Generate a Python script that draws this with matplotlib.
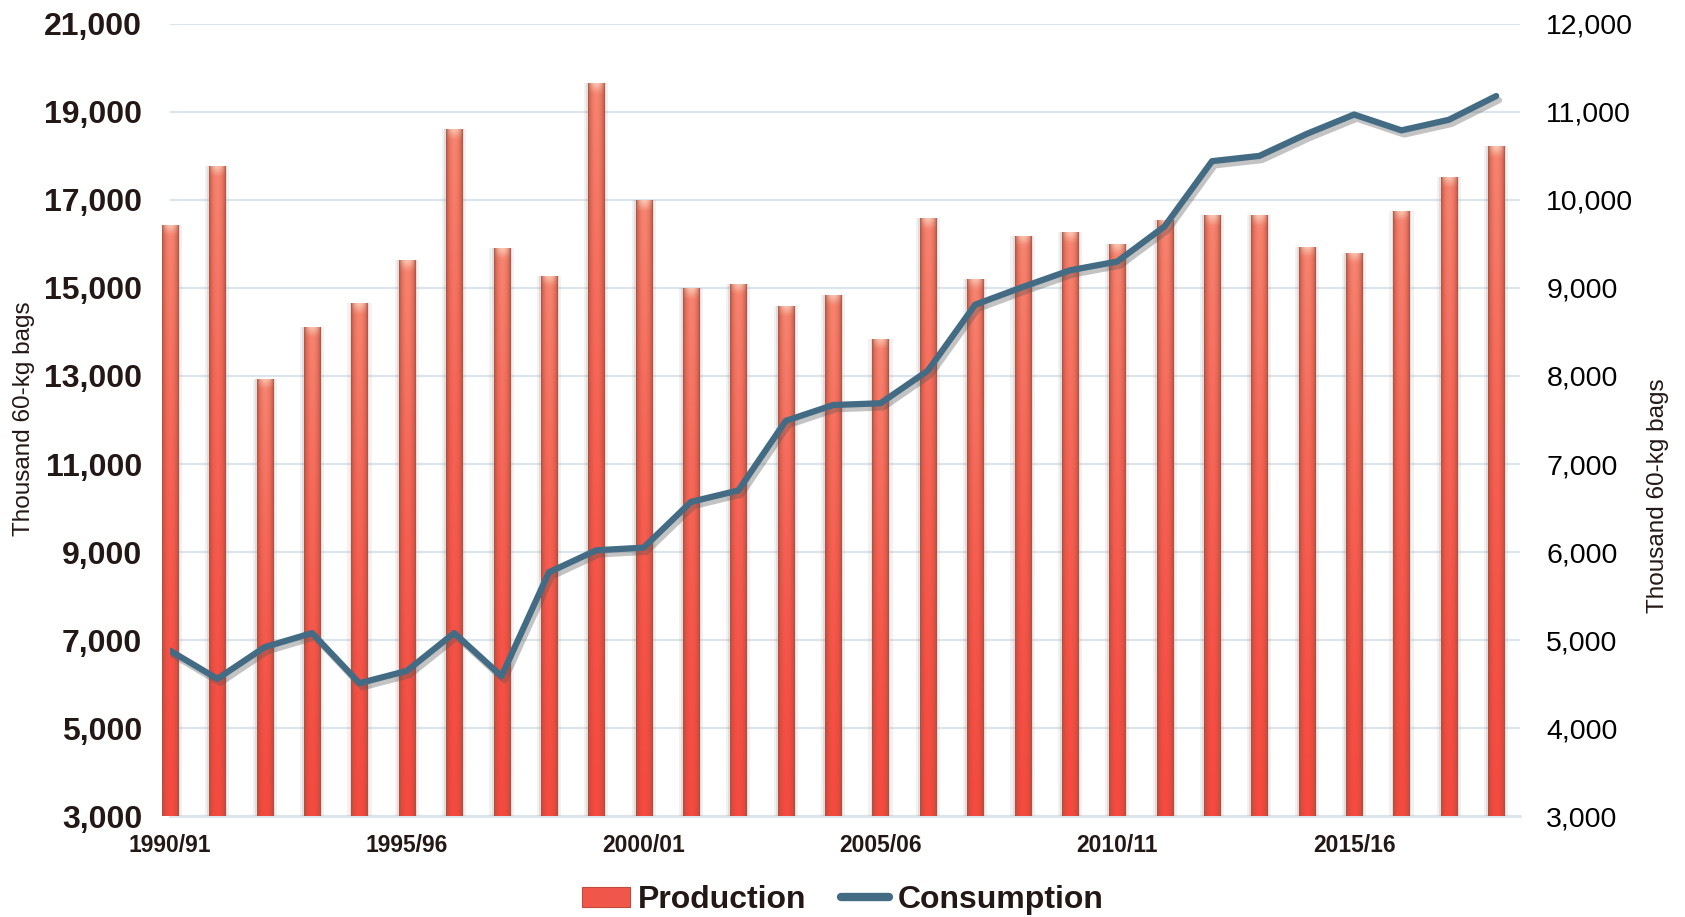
import numpy as np
import matplotlib.pyplot as plt
import matplotlib.patheffects as pe
from matplotlib.patches import Patch
from matplotlib.lines import Line2D
from matplotlib.ticker import FuncFormatter

plt.rcParams['font.family'] = ['Liberation Sans', 'DejaVu Sans']

years = ['1990/91', '1991/92', '1992/93', '1993/94', '1994/95', '1995/96', '1996/97',
         '1997/98', '1998/99', '1999/00', '2000/01', '2001/02', '2002/03', '2003/04',
         '2004/05', '2005/06', '2006/07', '2007/08', '2008/09', '2009/10', '2010/11',
         '2011/12', '2012/13', '2013/14', '2014/15', '2015/16', '2016/17', '2017/18',
         '2018/19']
production = [16430, 17780, 12940, 14110, 14650, 15630, 18610, 15900, 15280, 19660,
              16990, 14990, 15090, 14600, 14840, 13840, 16580, 15210, 16190, 16260,
              15990, 16550, 16650, 16650, 15940, 15800, 16750, 17530, 18220]
consumption = [4880, 4560, 4920, 5080, 4510, 4650, 5080, 4590, 5770, 6020,
               6050, 6570, 6700, 7490, 7670, 7690, 8060, 8810, 9010, 9200,
               9300, 9700, 10440, 10500, 10750, 10970, 10790, 10910, 11180]
shown_years = ['1990/91', '1995/96', '2000/01', '2005/06', '2010/11', '2015/16']

dark = '#231815'
line_col = '#436C84'

fig = plt.figure(figsize=(16.85, 9.17), dpi=100)
ax = fig.add_axes([0.1009, 0.110, 0.8011, 0.864])
ax2 = ax.twinx()

x = np.arange(len(years))
w = 0.34
ymin, ymax = 3000, 21000

# soft shadows behind bars
ax.bar(x, production, width=w + 0.17, color='#9a9a9a', alpha=0.12, zorder=1)
ax.bar(x, production, width=w + 0.08, color='#8a8a8a', alpha=0.18, zorder=1)
bars = ax.bar(x, production, width=w, color='none', zorder=2)

# cylinder-like shading for the bars
edge = np.array([0.68, 0.30, 0.23])
c_bot = np.array([0.97, 0.29, 0.25])
c_top = np.array([0.97, 0.52, 0.44])
cap = np.array([0.99, 0.82, 0.74])
u = np.linspace(-1, 1, 40)
prof = np.cos(u * np.pi / 2) ** 0.6
for b, val in zip(bars, production):
    x0 = b.get_x()
    x1 = x0 + b.get_width()
    ys = np.linspace(val, ymin, 200)
    t = (ys - ymin) / (val - ymin)
    centre = c_bot[None, :] + (c_top - c_bot)[None, :] * (t[:, None] ** 1.5)
    capw = np.clip(1 - (val - ys) / 220.0, 0, 1)[:, None] * 0.8
    centre = centre * (1 - capw) + cap[None, :] * capw
    img = edge[None, None, :] + (centre[:, None, :] - edge[None, None, :]) * prof[None, :, None]
    im = ax.imshow(img, extent=[x0, x1, ymin, val], aspect='auto', zorder=2,
                   interpolation='bilinear')
    im.set_clip_path(b)

ax2.plot(x, consumption, color=line_col, lw=4.5, solid_joinstyle='round',
         solid_capstyle='round', zorder=3,
         path_effects=[pe.SimpleLineShadow(offset=(2, -3), shadow_color='#555555', alpha=0.35),
                       pe.Normal()])

ax.set_xlim(0, len(years) - 0.5)
ax.set_ylim(ymin, ymax)
ax2.set_ylim(3000, 12000)
ax.set_yticks(np.arange(3000, 21001, 2000))
ax2.set_yticks(np.arange(3000, 12001, 1000))
fmt = FuncFormatter(lambda v, p: f'{int(v):,}')
ax.yaxis.set_major_formatter(fmt)
ax2.yaxis.set_major_formatter(fmt)

ax.set_xticks([years.index(y) for y in shown_years])
ax.set_xticklabels(shown_years)

ax.grid(axis='y', color='#DCE5EB', lw=1.6, zorder=0)
ax.axhline(ymin, color='#DCE5EB', lw=2, zorder=0, clip_on=False)
ax.set_axisbelow(True)
for a in (ax, ax2):
    for s in a.spines.values():
        s.set_visible(False)

ax.tick_params(axis='y', length=0, pad=20, labelsize=23, labelcolor=dark)
ax.tick_params(axis='x', length=0, pad=13, labelsize=16.5, labelcolor=dark)
ax2.tick_params(axis='y', length=0, pad=19, labelsize=20.5, labelcolor='black')
for lab in ax.get_yticklabels() + ax.get_xticklabels():
    lab.set_fontweight('bold')

fig.text(0.0145, 0.543, 'Thousand 60-kg bags', rotation=90, ha='center', va='center',
         fontsize=17.5, color=dark)
fig.text(0.984, 0.459, 'Thousand 60-kg bags', rotation=90, ha='center', va='center',
         fontsize=17.5, color=dark)

handles = [Patch(facecolor='#F0574A', edgecolor='#C04A3C', lw=0.8),
           Line2D([0], [0], color=line_col, lw=6, solid_capstyle='round')]
fig.legend(handles, ['Production', 'Consumption'], loc='center', ncol=2,
           bbox_to_anchor=(0.5, 0.0185), frameon=False, handlelength=1.5,
           handleheight=0.6, handletextpad=0.25, columnspacing=1.1,
           prop={'weight': 'bold', 'size': 23}, labelcolor=dark)

fig.savefig('out.png', dpi=100)
